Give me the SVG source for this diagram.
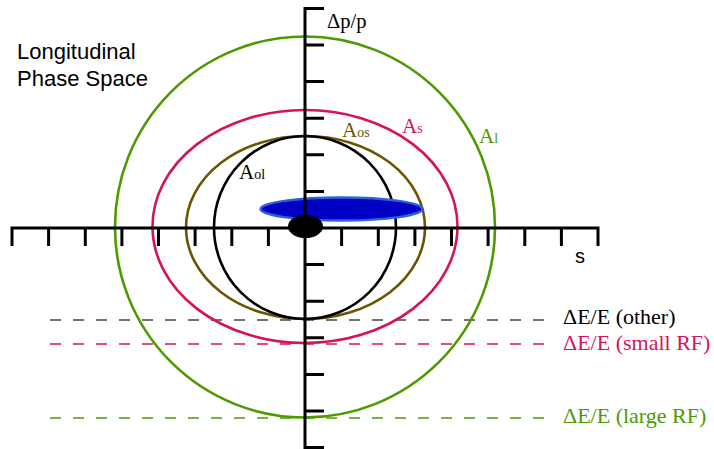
<svg xmlns="http://www.w3.org/2000/svg" width="714" height="449" viewBox="0 0 714 449">
<style>
.ax{stroke:#000;stroke-width:3;fill:none}
.ell{fill:none;stroke-width:2.6}
.dash{stroke-width:1.6;stroke-dasharray:11 12;fill:none}
.serif{font-family:"Liberation Serif","Times New Roman",serif}
.sans{font-family:"Liberation Sans",Arial,sans-serif}
.lbl{font-size:21px}
.sub{font-size:14px}
.de{font-size:22px}
</style>
<rect width="714" height="449" fill="#fff"/>
<g id="title"><text class="sans" x="17" y="59" font-size="22">Longitudinal</text><text class="sans" x="17" y="86" font-size="22">Phase Space</text></g>
<g id="connectors">
<line class="dash" x1="50" y1="320" x2="550" y2="320" stroke="#444"/>
<line class="dash" x1="50" y1="344" x2="550" y2="344" stroke="#d4145a"/>
<line class="dash" x1="50" y1="418" x2="550" y2="418" stroke="#4c9a00"/>
</g>
<g id="A_l"><ellipse class="ell" cx="305" cy="227" rx="190" ry="190.5" stroke="#4c9a00"/><text class="serif lbl" x="479" y="143" fill="#4c9a00">A<tspan class="sub">l</tspan></text></g>
<g id="A_s"><ellipse class="ell" cx="305" cy="226.5" rx="152.5" ry="116.5" stroke="#d4145a"/><text class="serif lbl" x="402" y="133" fill="#d4145a">A<tspan class="sub">s</tspan></text></g>
<g id="A_os"><ellipse class="ell" cx="305.5" cy="227.5" rx="119.5" ry="91.5" stroke="#6b5600"/><text class="serif lbl" x="342" y="137" fill="#6b5600">A<tspan class="sub">os</tspan></text></g>
<g id="A_ol"><ellipse class="ell" cx="305" cy="227.5" rx="91" ry="91.5" stroke="#000"/><text class="serif lbl" x="239" y="179" fill="#000">A<tspan class="sub">ol</tspan></text></g>
<g id="beam"><ellipse cx="341.5" cy="209" rx="81" ry="11.5" fill="#0000c4" stroke="#2a62dc" stroke-width="2.4"/></g>
<g id="axes">
<path class="ax" d="M10.5 228H599.5M12 228v18M48.6 228v18M85.3 228v18M121.9 228v18M158.5 228v18M195.1 228v18M231.8 228v18M268.4 228v18M341.6 228v18M378.3 228v18M414.9 228v18M451.5 228v18M488.1 228v18M524.8 228v18M561.4 228v18M598 228v18"/>
<path class="ax" d="M305 7V449M305 8.4h19M305 45h19M305 81.6h19M305 118.2h19M305 154.8h19M305 191.4h19M305 264.6h19M305 301.2h19M305 337.8h19M305 374.4h19M305 411h19M305 447.6h19"/>
<text class="serif" x="327" y="28" font-size="20.5">Δp/p</text>
<text class="sans" x="575" y="263" font-size="20">s</text>
</g>
<g id="center"><ellipse cx="305.5" cy="226.5" rx="17.5" ry="11.5" fill="#000"/></g>
<g id="labels">
<text class="serif de" x="563" y="324" fill="#000">ΔE/E (other)</text>
<text class="serif de" x="563" y="350" fill="#d4145a">ΔE/E (small RF)</text>
<text class="serif de" x="563" y="423" fill="#4c9a00">ΔE/E (large RF)</text>
</g>
</svg>
